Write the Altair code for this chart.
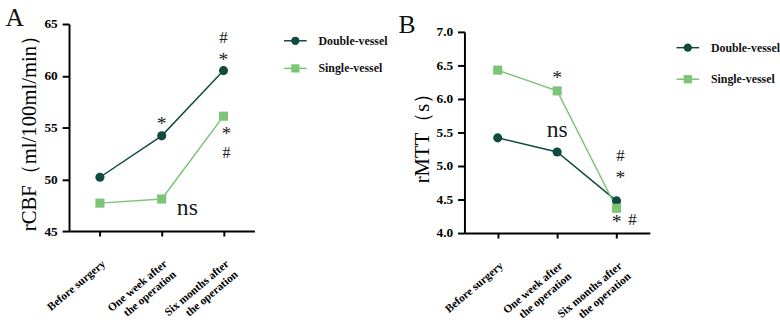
import altair as alt
import pandas as pd

cats = ["Before surgery", "One week after\nthe operation", "Six months after\nthe operation"]
series = ["Double-vessel", "Single-vessel"]
colors = ["#0f4b3f", "#7cc476"]
shapes = ["circle", "square"]

cbf_double = [50.2, 54.2, 60.5]
cbf_single = [47.7, 48.1, 56.1]
mtt_double = [5.42, 5.21, 4.48]
mtt_single = [6.43, 6.12, 4.37]

cbf_ticks = [45, 50, 55, 60, 65]
mtt_ticks = [4.0, 4.5, 5.0, 5.5, 6.0, 6.5, 7.0]

# significance marks: text, category index, y value, pixel shift, font size
cbf_sig_text = ["*", "#", "*", "*", "#", "ns"]
cbf_sig_cat = [1, 2, 2, 2, 2, 1]
cbf_sig_y = [55.3, 63.6, 61.5, 54.4, 52.5, 47.2]
cbf_sig_dx = [0, 0, 0, 3, 3, 26]
cbf_sig_size = [20, 17, 20, 19, 16, 24]

mtt_sig_text = ["*", "ns", "#", "*", "*", "#"]
mtt_sig_cat = [1, 1, 2, 2, 2, 2]
mtt_sig_y = [6.31, 5.54, 5.15, 4.82, 4.16, 4.19]
mtt_sig_dx = [0, 0, 4, 4, 0, 16]
mtt_sig_size = [20, 24, 17, 20, 20, 17]

SERIF = "Liberation Serif"


def panel(letter, ytitle, dvals, svals, domain, ticks, fmt, w, h, yrange, pad,
          sig_text, sig_cat, sig_y, sig_dx, sig_size, title_dx):
    rows = []
    for s, vals in zip(series, [dvals, svals]):
        for c, v in zip(cats, vals):
            rows.append({"cat": c, "series": s, "value": v})
    df = pd.DataFrame(rows)
    x = alt.X("cat:N", sort=cats, title=None,
              scale=alt.Scale(type="point", padding=pad, domain=cats),
              axis=alt.Axis(labelAngle=-40, labelAlign="right", labelBaseline="top",
                            labelExpr="split(datum.label, '\\n')",
                            labelFont=SERIF, labelFontWeight="bold", labelOverlap=False,
                            labelFontSize=11.5, labelPadding=22, labelLineHeight=14))
    y = alt.Y("value:Q", title=ytitle,
              scale=alt.Scale(domain=domain, nice=False, zero=False, range=yrange),
              axis=alt.Axis(values=ticks, format=fmt, labelFontSize=13.5,
                            labelFont=SERIF, labelFontWeight="bold", labelOverlap=False,
                            tickSize=7, labelPadding=5, titlePadding=4))
    color = alt.Color("series:N", scale=alt.Scale(domain=series, range=colors), legend=None)
    shape = alt.Shape("series:N", scale=alt.Scale(domain=series, range=shapes), legend=None)
    base = alt.Chart(df).encode(x=x, y=y, color=color)
    line = base.mark_line(strokeWidth=1.5)
    pts = base.mark_point(filled=True, size=85, opacity=1).encode(shape=shape)

    layers = [line, pts]
    sdf = pd.DataFrame({"cat": [cats[i] for i in sig_cat], "value": sig_y,
                        "t": sig_text, "dx": sig_dx, "fs": sig_size})
    for d in sorted(set(sig_dx)):
        sub = sdf[sdf["dx"] == d]
        layers.append(alt.Chart(sub).mark_text(font=SERIF, color="#1a1a1a",
                                               dx=d, baseline="middle")
                      .encode(x=x, y=y, text="t:N",
                              size=alt.Size("fs:Q", scale=None)))
    return alt.layer(*layers).properties(
        width=w, height=h,
        title=alt.TitleParams(letter, anchor="start", font=SERIF, fontSize=26,
                              fontWeight="normal", color="#111", offset=-14, dx=title_dx),
    )


def legend_view(w, h, pad, x0):
    ldf = pd.DataFrame({"series": series})
    y = alt.Y("series:N", sort=series, axis=None,
              scale=alt.Scale(type="point", padding=pad, domain=series))
    color = alt.Color("series:N", scale=alt.Scale(domain=series, range=colors), legend=None)
    shape = alt.Shape("series:N", scale=alt.Scale(domain=series, range=shapes), legend=None)
    base = alt.Chart(ldf)
    rule = base.mark_rule(strokeWidth=1.5).encode(x=alt.value(x0), x2=alt.value(x0 + 23), y=y, color=color)
    pt = base.mark_point(filled=True, size=70, opacity=1).encode(
        x=alt.value(x0 + 11.5), y=y, color=color, shape=shape)
    txt = base.mark_text(align="left", font=SERIF, fontSize=12, fontWeight="bold", color="#111").encode(
        x=alt.value(x0 + 35), y=y, text="series:N")
    return alt.layer(rule, pt, txt).properties(width=w, height=h)


pA = panel("A", "rCBF（ml/100ml/min）", cbf_double, cbf_single, [45, 65], cbf_ticks, "d",
           188, 210, [210, 0], 0.5, cbf_sig_text, cbf_sig_cat, cbf_sig_y, cbf_sig_dx, cbf_sig_size, -14)
pB = panel("B", "rMTT（s）", mtt_double, mtt_single, [4, 7], mtt_ticks, ".1f",
           188, 212, [212, 8], 0.56, mtt_sig_text, mtt_sig_cat, mtt_sig_y, mtt_sig_dx, mtt_sig_size, -13)
lA = legend_view(146, 62, 0.607, 30)
lB = legend_view(132, 80, 0.75, 27)

chart = alt.hconcat(pA, lA, pB, lB, spacing=0).properties(
    padding={"left": 5, "top": 3, "right": 0, "bottom": 0}
).configure_view(stroke=None).configure_axis(
    domainColor="black", domainWidth=2, tickColor="black", tickWidth=2,
    grid=False, labelColor="black",
    titleFont=SERIF, titleFontWeight="normal", titleFontSize=21, titleColor="black",
)

chart.save("out.html", embed_options={"renderer": "svg", "actions": False})
